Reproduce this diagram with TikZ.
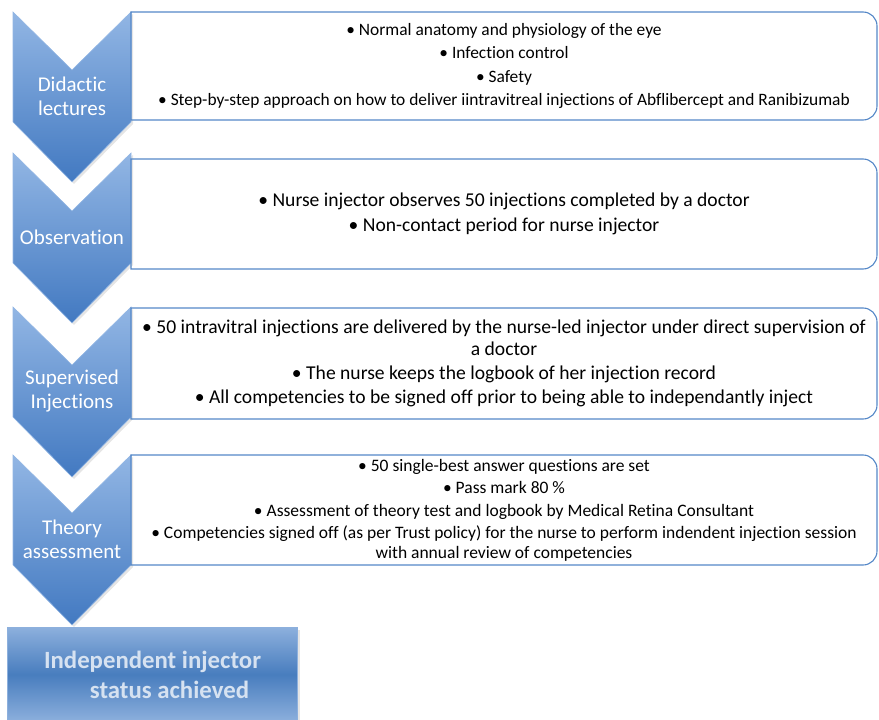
\documentclass[tikz,border=0pt]{standalone}
\usepackage{fontspec}
\setmainfont{Carlito}[Ligatures=CommonOff]
\usepackage{tikz}

\definecolor{chevtop}{RGB}{146,182,228}
\definecolor{chevbot}{RGB}{66,121,193}
\definecolor{frameblue}{RGB}{84,135,199}
\definecolor{goaltop}{RGB}{141,176,221}
\definecolor{goalmid}{RGB}{72,125,190}
\definecolor{goaltext}{RGB}{214,226,241}

\tikzset{
  chevron/.style={top color=chevtop, bottom color=chevbot, draw=chevtop, line width=0.6bp},
  softshadow/.style={fill=black, opacity=0.10},
  steplabel/.style={text=white, align=center, inner sep=0pt, font=\fontsize{21bp}{24bp}\selectfont},
  infobox/.style={minimum width=746bp, inner sep=0pt, outer sep=0pt, align=center},
  boxline/.style={draw=frameblue, line width=1.1bp},
}

% one chevron with its label: top edge, node name, text
\newcommand\chevronstep[3]{%
  \fill[softshadow] (15,#1+2)--(74,#1+60)--(133,#1+2)--(133,#1+112)--(74,#1+172)--(15,#1+112)--cycle;
  \path[chevron] (13,#1)--(72,#1+58)--(131,#1)--(131,#1+110)--(72,#1+170)--(13,#1+110)--cycle;
  \node[steplabel] (#2) at (72,#1+84) {#3};}

% outline of a text box: square on the left, rounded on the right
\newcommand\infoframe[1]{%
  \draw[boxline] (#1.north west) -- ([xshift=-14bp]#1.north east)
    arc[start angle=90,end angle=0,radius=14bp] -- ([yshift=14bp]#1.south east)
    arc[start angle=0,end angle=-90,radius=14bp] -- (#1.south west) -- cycle;}

\begin{document}
\begin{tikzpicture}[x=1bp,y=-1bp]
\useasboundingbox (0,0) rectangle (879,720);
\clip (0,0) rectangle (879,720);

% chevrons down the left side
\chevronstep{12}{didactic}{Didactic\\lectures}
\chevronstep{153}{observe}{Observation}
\chevronstep{307}{supervise}{Supervised\\Injections}
\chevronstep{455}{theory}{Theory\\assessment}

% text boxes
\node[infobox, minimum height=108bp, font=\fontsize{17.4bp}{23.5bp}\selectfont] (didactictext) at (504,66) {%
• Normal anatomy and physiology of the eye\\
• Infection control\\
• Safety\\
• Step-by-step approach on how to deliver iintravitreal injections of Abflibercept and Ranibizumab};
\infoframe{didactictext}

\node[infobox, minimum height=110bp, font=\fontsize{19.6bp}{25bp}\selectfont] (observetext) at (504,214) {%
• Nurse injector observes 50 injections completed by a doctor\\
• Non-contact period for nurse injector};
\infoframe{observetext}

\node[infobox, minimum height=111bp, font=\fontsize{19.6bp}{24bp}\selectfont] (supervisetext) at (504,363.5) {%
• 50 intravitral injections are delivered by the nurse-led injector under direct supervision of\\[-2bp]
a doctor\\
• The nurse keeps the logbook of her injection record\\
• All competencies to be signed off prior to being able to independantly inject};
\infoframe{supervisetext}

\node[infobox, minimum height=110bp, font=\fontsize{17.5bp}{22.5bp}\selectfont] (theorytext) at (504,510) {%
• 50 single-best answer questions are set\\
• Pass mark 80 \%\\
• Assessment of theory test and logbook by Medical Retina Consultant\\
• Competencies signed off (as per Trust policy) for the nurse to perform indendent injection session\\[-3bp]
with annual review of competencies};
\infoframe{theorytext}

% final status
\fill[softshadow] (10,630) rectangle (300,725);
\node[minimum width=289bp, minimum height=95bp, inner sep=0pt, align=center,
  top color=goaltop, bottom color=goaltop, middle color=goalmid, draw=goaltop, line width=1bp,
  text=goaltext, font=\fontsize{24.8bp}{30bp}\selectfont\bfseries] (goal) at (152.5,674.5)
  {Independent injector\\\hspace*{34bp}status achieved};
\end{tikzpicture}
\end{document}
